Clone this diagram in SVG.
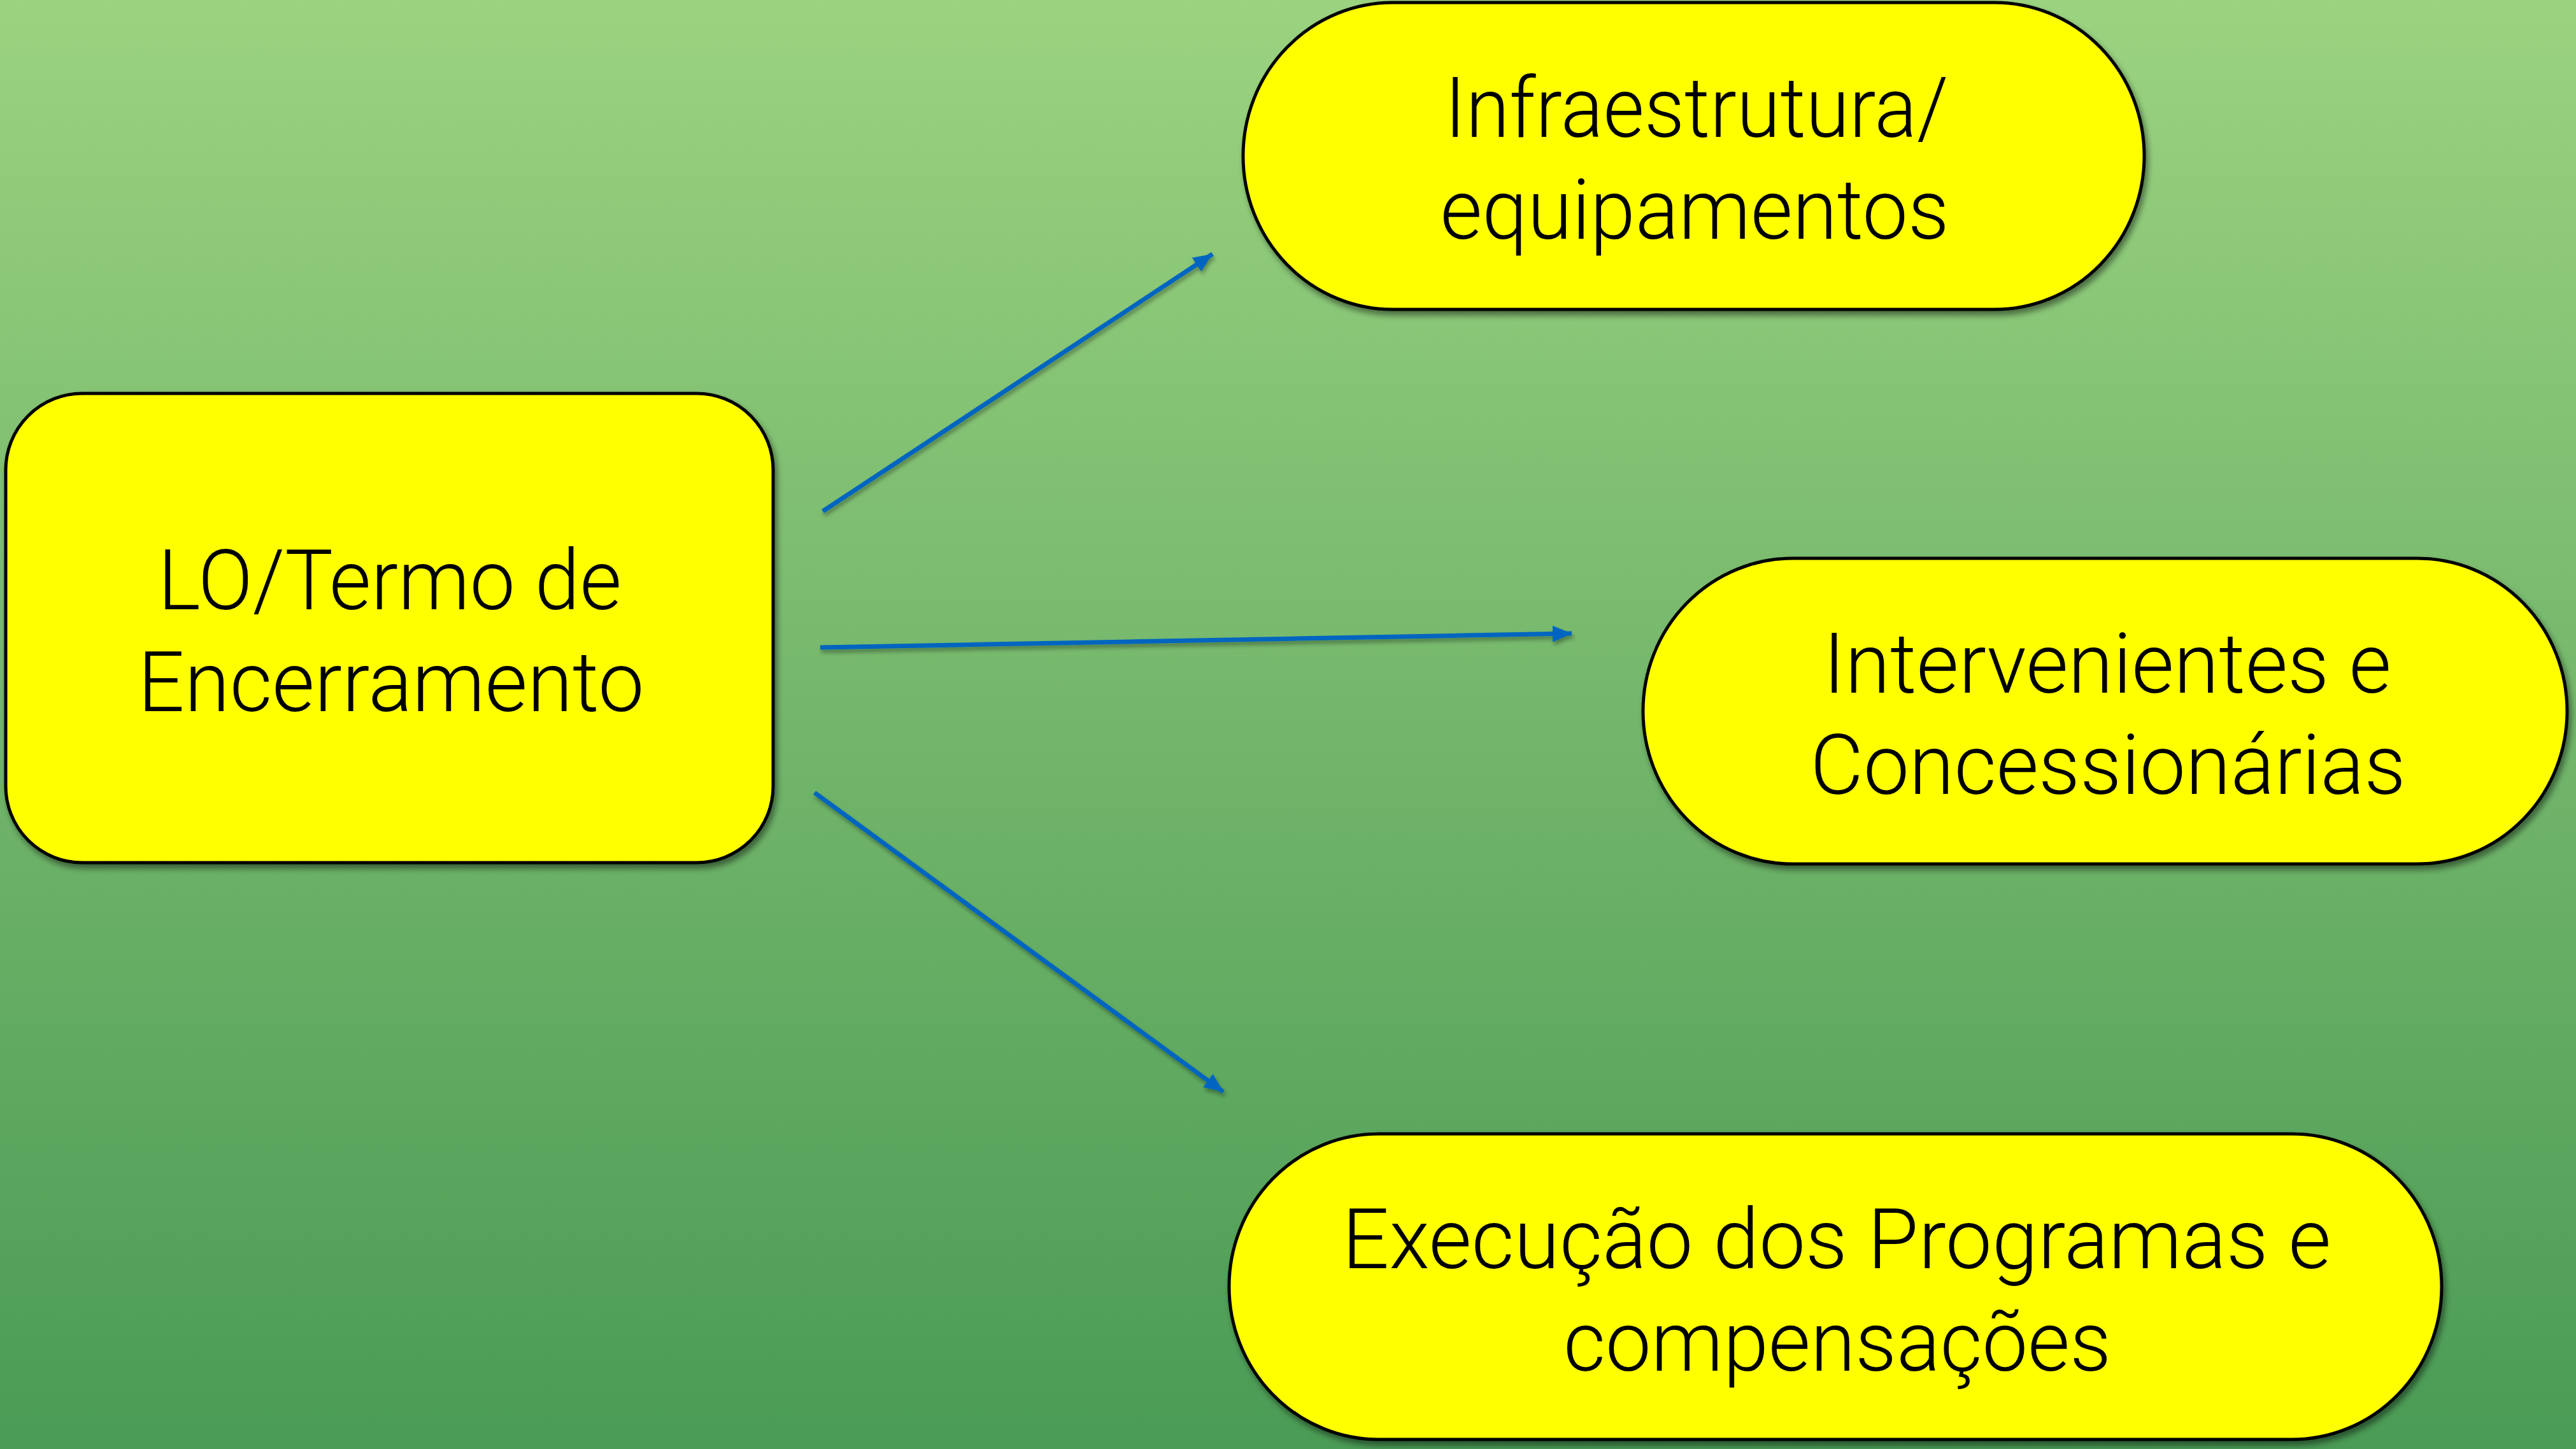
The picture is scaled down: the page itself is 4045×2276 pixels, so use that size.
<svg xmlns="http://www.w3.org/2000/svg" width="4045" height="2276" viewBox="0 0 4045 2276">
<defs>
<linearGradient id="bg" x1="0" y1="0" x2="0" y2="1">
<stop offset="0" stop-color="#9bd380"/>
<stop offset="0.5" stop-color="#73b66b"/>
<stop offset="1" stop-color="#4a9b55"/>
</linearGradient>
<filter id="sh" x="-10%" y="-10%" width="120%" height="125%">
<feDropShadow dx="4" dy="7" stdDeviation="5" flood-color="#000" flood-opacity="0.45"/>
</filter>
<filter id="lsh" x="-10%" y="-10%" width="120%" height="130%">
<feDropShadow dx="2" dy="5" stdDeviation="3" flood-color="#000" flood-opacity="0.35"/>
</filter>
<marker id="ah" markerUnits="userSpaceOnUse" markerWidth="32" markerHeight="28" refX="30" refY="13" orient="auto">
<path d="M0,0 L30,13 L0,26 Z" fill="#0565c0"/>
</marker>
<style>
.node{fill:#ffff00;stroke:#000;stroke-width:5;filter:url(#sh)}
.lbl{font-family:Roboto,"Liberation Sans",Arial,sans-serif;font-weight:300;font-size:132px;fill:#000;text-anchor:middle}
.conn{stroke:#0565c0;stroke-width:7;fill:none;marker-end:url(#ah)}
</style>
</defs>
<rect width="4045" height="2276" fill="url(#bg)"/>
<g id="connectors" filter="url(#lsh)">
<line class="conn" x1="1292" y1="803" x2="1904" y2="399"/>
<line class="conn" x1="1288" y1="1017" x2="2468" y2="995"/>
<line class="conn" x1="1279" y1="1245" x2="1921" y2="1715"/>
</g>
<g id="node-lo">
<rect class="node" x="9" y="618" width="1205" height="737" rx="120" ry="120"/>
<text class="lbl" x="612" y="957" textLength="728" lengthAdjust="spacingAndGlyphs">LO/Termo de</text>
<text class="lbl" x="614" y="1117" textLength="795" lengthAdjust="spacingAndGlyphs">Encerramento</text>
</g>
<g id="node-infra">
<rect class="node" x="1952" y="4" width="1415" height="482" rx="235" ry="241"/>
<text class="lbl" x="2664" y="215" textLength="791" lengthAdjust="spacingAndGlyphs">Infraestrutura/</text>
<text class="lbl" x="2661" y="375" textLength="799" lengthAdjust="spacingAndGlyphs">equipamentos</text>
</g>
<g id="node-interv">
<rect class="node" x="2580" y="877" width="1451" height="480" rx="235" ry="240"/>
<text class="lbl" x="3309" y="1088" textLength="892" lengthAdjust="spacingAndGlyphs">Intervenientes e</text>
<text class="lbl" x="3310" y="1247" textLength="935" lengthAdjust="spacingAndGlyphs">Concessionárias</text>
</g>
<g id="node-exec">
<rect class="node" x="1930" y="1781" width="1904" height="480" rx="235" ry="240"/>
<text class="lbl" x="2884" y="1992" textLength="1553" lengthAdjust="spacingAndGlyphs">Execução dos Programas e</text>
<text class="lbl" x="2885" y="2153" textLength="860" lengthAdjust="spacingAndGlyphs">compensações</text>
</g>
</svg>
